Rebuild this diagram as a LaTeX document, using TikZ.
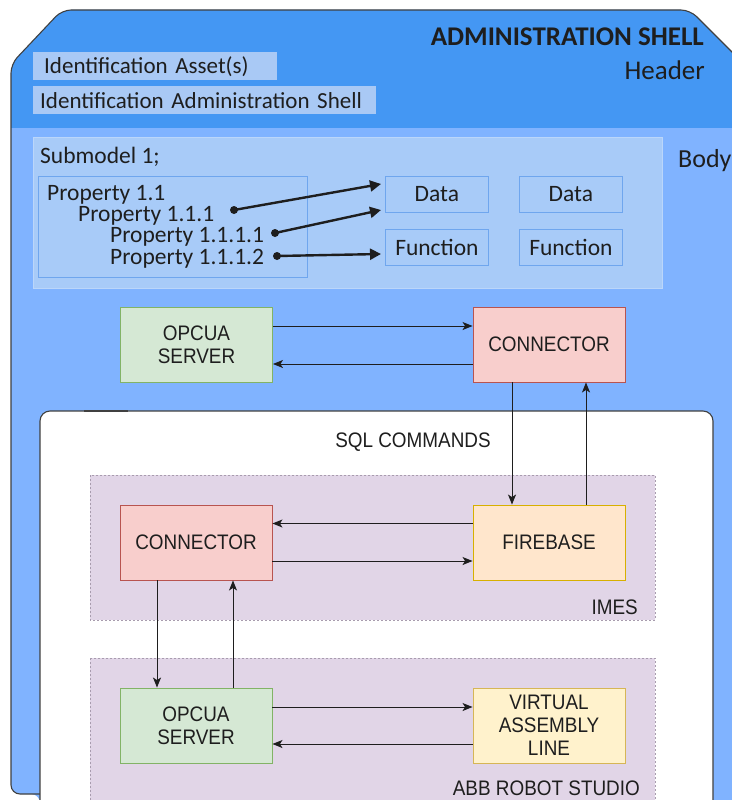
\documentclass[tikz,border=0pt]{standalone}
\usepackage{fontspec}
\setmainfont{Carlito}
\newfontfamily\dio[FakeStretch=0.9]{Liberation Sans}
\usetikzlibrary{arrows.meta}
\definecolor{hdrblue}{HTML}{4497F3}
\definecolor{bodyblue}{HTML}{80B3FF}
\definecolor{subfill}{HTML}{A8CBF8}
\definecolor{subline}{HTML}{BBD6FA}
\definecolor{boxline}{HTML}{6FA6EE}
\definecolor{idfill}{HTML}{A9C9F5}
\definecolor{gfill}{HTML}{D5E8D4}
\definecolor{gline}{HTML}{82B366}
\definecolor{rfill}{HTML}{F8CECC}
\definecolor{rline}{HTML}{B85450}
\definecolor{ofill}{HTML}{FFE6CC}
\definecolor{oline}{HTML}{D7B000}
\definecolor{yfill}{HTML}{FFF2CC}
\definecolor{yline}{HTML}{D6B656}
\definecolor{pfill}{HTML}{E1D5E7}
\definecolor{pline}{HTML}{A89CAE}
\definecolor{ink}{HTML}{1E1E1E}
\begin{document}
\begin{tikzpicture}[x=1pt,y=-1pt,
  every node/.style={inner sep=0pt, text=ink},
  diobox/.style={draw, line width=0.9pt, minimum width=152pt, minimum height=75pt,
    align=center, font=\dio\fontsize{21}{23}\selectfont},
  greenbox/.style={diobox, fill=gfill, draw=gline},
  redbox/.style={diobox, fill=rfill, draw=rline},
  orangebox/.style={diobox, fill=ofill, draw=oline},
  yellowbox/.style={diobox, fill=yfill, draw=yline},
  group/.style={fill=pfill, draw=pline, line width=0.9pt, dash pattern=on 2pt off 2pt},
  arr/.style={draw=ink, line width=1pt, -{Stealth[length=10pt,width=8pt,inset=2.5pt]}},
  parr/.style={draw=ink, line width=2.4pt, -{Triangle[length=11pt,width=11pt]}},
  cal/.style={font=\fontsize{23.5}{25}\selectfont},
  grouplabel/.style={font=\dio\fontsize{21}{23}\selectfont},
  idbox/.style={fill=idfill, font=\fontsize{23}{25}\selectfont, anchor=north west, align=left},
  smallbox/.style={fill=subfill, draw=boxline, line width=0.8pt, minimum width=103pt,
    minimum height=36pt, cal, anchor=north west},
  dot/.style={circle, fill=ink, minimum size=8pt, inner sep=0pt}
]
\useasboundingbox (0,0) rectangle (731,800);
% shell
\path[fill=bodyblue, rounded corners=9pt]
  (40,800) -- (40,794) -- (11,794) -- (11,64) -- (62,10) -- (690,10) -- (740,60) -- (740,800) -- cycle;
\begin{scope}
  \clip[rounded corners=9pt] (11,794) -- (11,64) -- (62,10) -- (690,10) -- (740,60) -- (740,794) -- cycle;
  \fill[hdrblue] (0,0) rectangle (740,128);
\end{scope}
\draw[ink!85, line width=1.1pt, rounded corners=9pt]
  (41,794) -- (11,794) -- (11,64) -- (62,10) -- (690,10) -- (740,60);
% header texts
\node[font=\bfseries\fontsize{27}{29}\selectfont, anchor=base east] (adm) at (704,46) {ADMINISTRATION SHELL};
\node[font=\fontsize{27}{29}\selectfont, anchor=base east] (hdr) at (705,79) {Header};
\node[idbox, minimum height=28pt, inner xsep=11pt, text width=222pt] (ida) at (33,52) {Identification Asset(s)};
\node[idbox, minimum height=28pt, inner xsep=7pt, text width=329pt] (ids) at (33,86) {Identification Administration Shell};
% body
\node[draw=subline, fill=subfill, line width=1pt, minimum width=629pt, minimum height=151pt, anchor=north west] (sub) at (33,137) {};
\node[cal, anchor=base west] (subt) at (40,163) {Submodel 1;};
\node[font=\fontsize{26}{28}\selectfont, anchor=base west] (body) at (678,167) {Body};
\node[draw=boxline, line width=0.8pt, minimum width=269pt, minimum height=101pt, anchor=north west] (prop) at (38,176) {};
\node[cal, anchor=base west] (p1) at (47,200) {Property 1.1};
\node[cal, anchor=base west] (p2) at (78,221) {Property 1.1.1};
\node[cal, anchor=base west] (p3) at (110,242) {Property 1.1.1.1};
\node[cal, anchor=base west] (p4) at (110,264) {Property 1.1.1.2};
\node[smallbox] (d1) at (385,176) {Data};
\node[smallbox] (d2) at (519,176) {Data};
\node[smallbox] (f1) at (385,229) {Function};
\node[smallbox] (f2) at (519,229) {Function};
\node[dot] (dot1) at (234,210) {};
\node[dot] (dot2) at (275,233) {};
\node[dot] (dot3) at (277,256) {};
\coordinate (e1) at (381,184);
\coordinate (e2) at (381,210);
\coordinate (e3) at (381,254);
\draw[parr] (dot1.center) -- (e1);
\draw[parr] (dot2.center) -- (e2);
\draw[parr] (dot3.center) -- (e3);
% top pair
\node[greenbox] (opc1) at (196.5,344.5) {OPCUA\\SERVER};
\node[redbox] (con1) at (549,344.5) {CONNECTOR};
\draw[arr] ([yshift=18.5pt]opc1.east) -- ([yshift=18.5pt]con1.west);
\draw[arr] ([yshift=-19.5pt]con1.west) -- ([yshift=-19.5pt]opc1.east);
% white box
\draw[fill=white, draw=ink!85, line width=1.1pt, rounded corners=10pt] (40,830) -- (40,411) -- (713,411) -- (713,830);
\draw[ink!85, line width=2.2pt] (84,411) -- (128,411);
\node[grouplabel, anchor=base] (sql) at (413,447) {SQL COMMANDS};
% IMES
\path[group] (90,475) rectangle (655,620);
\node[grouplabel, anchor=base east] (imes) at (638,614) {IMES};
\node[redbox] (con2) at (196,542.5) {CONNECTOR};
\node[orangebox] (fire) at (549,542.5) {FIREBASE};
\draw[arr] ([yshift=19pt]fire.west) -- ([yshift=19pt]con2.east);
\draw[arr] ([yshift=-18.5pt]con2.east) -- ([yshift=-18.5pt]fire.west);
\draw[arr] ([xshift=-37pt]con1.south) -- ([xshift=-37pt]fire.north);
\draw[arr] ([xshift=37pt]fire.north) -- ([xshift=37pt]con1.south);
% ABB
\path[group] (90,658) rectangle (655,812);
\node[grouplabel, anchor=base east] (abb) at (640,795) {ABB ROBOT STUDIO};
\node[greenbox] (opc2) at (196,725.5) {OPCUA\\SERVER};
\node[yellowbox] (val) at (549,725.5) {VIRTUAL\\ASSEMBLY\\LINE};
\draw[arr] ([yshift=18.5pt]opc2.east) -- ([yshift=18.5pt]val.west);
\draw[arr] ([yshift=-18.5pt]val.west) -- ([yshift=-18.5pt]opc2.east);
\draw[arr] ([xshift=-39pt]con2.south) -- ([xshift=-39pt]opc2.north);
\draw[arr] ([xshift=37pt]opc2.north) -- ([xshift=37pt]con2.south);
\end{tikzpicture}
\end{document}
